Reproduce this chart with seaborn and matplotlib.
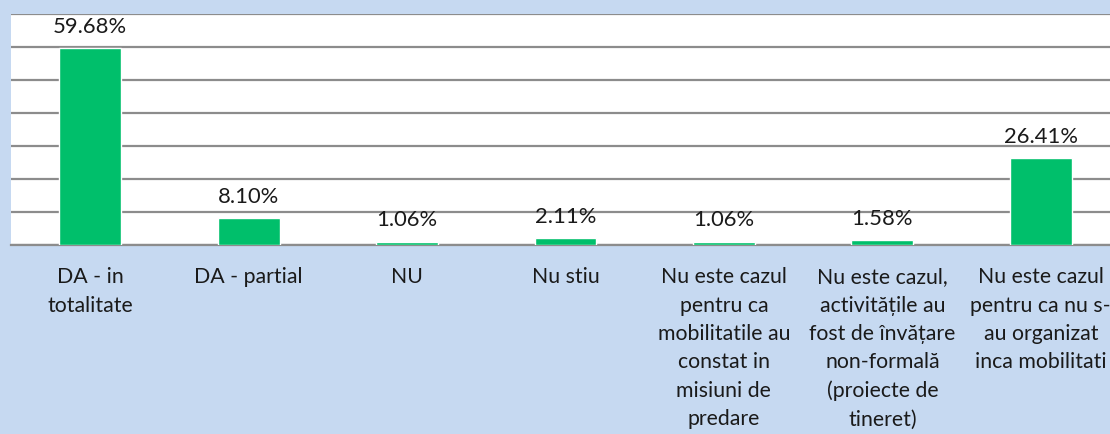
import matplotlib
matplotlib.use("Agg")
import matplotlib.pyplot as plt
import seaborn as sns
import pandas as pd
from matplotlib.ticker import FixedLocator

categories = [
    "DA - in\ntotalitate",
    "DA - partial",
    "NU",
    "Nu stiu",
    "Nu este cazul\npentru ca\nmobilitatile au\nconstat in\nmisiuni de\npredare",
    "Nu este cazul,\nactivitățile au\nfost de învățare\nnon-formală\n(proiecte de\ntineret)",
    "Nu este cazul\npentru ca nu s-\nau organizat\ninca mobilitati",
]
values = [59.68, 8.10, 1.06, 2.11, 1.06, 1.58, 26.41]
value_labels = ["59.68%", "8.10%", "1.06%", "2.11%", "1.06%", "1.58%", "26.41%"]

sns.set_theme(style="white")
plt.rcParams["font.family"] = ["Lato", "DejaVu Sans"]

W, H = 1110, 434
fig = plt.figure(figsize=(W / 100, H / 100), dpi=100)
fig.patch.set_facecolor("#C6D9F1")

left, right, top, bottom = 11, 1120, 14, 245
ax = fig.add_axes([left / W, (H - bottom) / H, (right - left) / W, (bottom - top) / H])
ax.set_facecolor("white")

df = pd.DataFrame({"cat": categories, "val": values})
sns.barplot(data=df, x="cat", y="val", color="#00BF6B", width=0.39,
            saturation=1, ax=ax, zorder=3)

ax.set_ylim(0, 70)
ax.set_xlim(-0.5, len(categories) - 0.5)
ax.set_yticks(range(0, 71, 10))
ax.yaxis.grid(True, color="#8C8C8C", linewidth=1.6, zorder=0)
ax.set_axisbelow(True)
ax.tick_params(axis="y", left=False, labelleft=False)

for s in ["left", "right", "top"]:
    ax.spines[s].set_visible(False)
ax.spines["bottom"].set_color("#8C8C8C")
ax.spines["bottom"].set_linewidth(1.6)

ax.set_xlabel("")
ax.set_ylabel("")
ax.set_xticks(range(len(categories)))
ax.set_xticklabels(categories, fontsize=15.3, color="#1a1a1a", linespacing=1.52, va="top")
ax.tick_params(axis="x", length=0, pad=16)

ax.xaxis.set_minor_locator(FixedLocator([i - 0.5 for i in range(len(categories) + 1)]))
ax.tick_params(axis="x", which="minor", length=7, width=1.6, color="#8C8C8C", direction="out")

ax.bar_label(ax.containers[0], labels=value_labels, padding=8, fontsize=15.8, color="#1a1a1a")

fig.savefig("out.png", dpi=100)
